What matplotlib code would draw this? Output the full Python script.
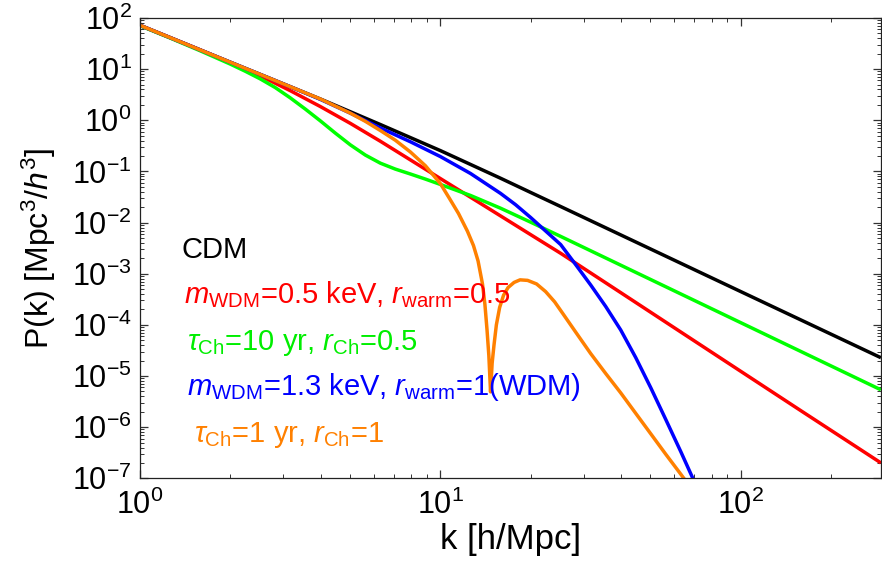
import matplotlib
matplotlib.use("Agg")
import matplotlib.pyplot as plt
from matplotlib.ticker import LogLocator, NullFormatter

plt.rcParams['font.family'] = ['Liberation Sans', 'DejaVu Sans']
plt.rcParams['mathtext.fontset'] = 'custom'
plt.rcParams['mathtext.rm'] = 'Liberation Sans'
plt.rcParams['mathtext.it'] = 'Liberation Sans:italic'
plt.rcParams['mathtext.bf'] = 'Liberation Sans:bold'

# ---- data ----
k_cdm = [1, 1.259, 1.585, 1.995, 2.512, 3.162, 3.981, 5.012, 6.310, 7.943, 10.0,
         12.59, 15.85, 19.95, 25.12, 100, 292.4]
P_cdm = [71.9, 41.4, 23.8, 13.7, 7.89, 4.54, 2.61, 1.47, 0.826, 0.459, 0.255,
         0.137, 0.0736, 0.0389, 0.0206, 4.46e-4, 2.28e-5]

k_wdm05 = [1, 1.259, 1.585, 1.995, 2.512, 3.162, 3.981, 5.012, 6.310, 7.943, 10.0,
           12.59, 15.85, 19.95, 25.12, 39.81, 63.10, 100, 158.5, 292.4]
P_wdm05 = [71.9, 41.4, 23.8, 13.5, 7.41, 3.80, 1.86, 0.871, 0.389, 0.168, 0.0724,
           0.0313, 0.0135, 5.82e-3, 2.51e-3, 4.27e-4, 7.24e-5, 1.23e-5, 2.09e-6, 2.0e-7]

k_ch10 = [1, 1.122, 1.259, 1.413, 1.585, 1.778, 1.995, 2.239, 2.512, 2.818, 3.162,
          3.548, 3.981, 4.467, 5.012, 5.623, 6.310, 7.079, 7.943, 8.913, 10.0,
          12.59, 15.85, 19.95, 25.12, 292.4]
P_ch10 = [70.8, 53.7, 40.7, 30.5, 22.9, 17.0, 12.6, 9.12, 6.46, 4.37, 2.75,
          1.66, 0.977, 0.562, 0.331, 0.209, 0.145, 0.111, 0.0891, 0.0708, 0.0556,
          0.0339, 0.0191, 0.0102, 5.37e-3, 5.37e-6]

k_wdm13 = [1, 1.259, 1.585, 1.995, 2.512, 3.162, 3.981, 5.012, 6.310, 7.943, 10.0,
           12.59, 15.85, 17.78, 19.95, 22.39, 25.12, 28.18, 31.62, 35.48, 39.81,
           44.67, 50.12, 56.23, 63.10, 70.79]
P_wdm13 = [71.9, 41.4, 23.8, 13.7, 7.89, 4.54, 2.57, 1.38, 0.708, 0.380, 0.195,
           0.0912, 0.0372, 0.0224, 0.0126, 6.84e-3, 3.72e-3, 1.51e-3, 6.03e-4,
           2.29e-4, 7.94e-5, 2.29e-5, 5.89e-6, 1.41e-6, 3.31e-7, 7.41e-8]

k_ch1 = [1, 1.259, 1.585, 1.995, 2.512, 3.162, 3.981, 5.012, 5.623, 6.310, 7.079,
         7.943, 8.913, 10.0, 10.72, 11.48, 12.30, 12.88, 13.34, 13.80, 14.06, 14.29,
         14.49, 14.68, 14.86, 15.07, 15.35, 15.74, 16.22, 16.79, 17.58, 18.41, 19.50,
         20.89, 22.39, 23.99, 25.70, 28.18, 31.62, 35.48, 39.81, 44.67, 50.12, 56.23,
         63.10, 65.31]
P_ch1 = [71.9, 41.4, 23.8, 13.7, 7.89, 4.54, 2.61, 1.38, 0.955, 0.631, 0.407,
         0.240, 0.129, 0.0575, 0.0295, 0.0151, 6.76e-3, 3.55e-3, 1.78e-3, 6.31e-4,
         2.51e-4, 7.94e-5, 2.51e-5, 4.90e-6, 1.78e-5, 3.98e-5, 1.0e-4, 2.19e-4,
         3.80e-4, 5.37e-4, 6.76e-4, 7.59e-4, 7.41e-4, 6.31e-4, 4.47e-4, 2.82e-4,
         1.58e-4, 7.24e-5, 2.75e-5, 1.12e-5, 4.68e-6, 1.86e-6, 7.41e-7, 2.95e-7,
         1.20e-7, 9.12e-8]

series = [
    (k_cdm, P_cdm, 'black'),
    (k_wdm05, P_wdm05, '#ff0000'),
    (k_ch10, P_ch10, '#00ff00'),
    (k_wdm13, P_wdm13, '#0000ff'),
    (k_ch1, P_ch1, '#ff8000'),
]

labels = [
    ('CDM', 'black', 0.056, 0.478),
    (r'$m_{\mathrm{WDM}}$=0.5 keV, $r_{\mathrm{warm}}$=0.5', '#ff0000', 0.060, 0.380),
    (r'$\tau_{\mathrm{Ch}}$=10 yr, $r_{\mathrm{Ch}}$=0.5', '#00ee00', 0.064, 0.279),
    (r'$m_{\mathrm{WDM}}$=1.3 keV, $r_{\mathrm{warm}}$=1(WDM)', '#0000ff', 0.064, 0.181),
    (r'$\tau_{\mathrm{Ch}}$=1 yr, $r_{\mathrm{Ch}}$=1', '#ff8000', 0.073, 0.0795),
]

fig = plt.figure(figsize=(8.82, 5.79), dpi=100)
ax = fig.add_axes([140/882, 1 - 478.3/579, 741/882, 460.3/579])

for k, P, c in series:
    ax.plot(k, P, color=c, lw=2.5, solid_joinstyle='round', solid_capstyle='butt')

ax.set_xscale('log')
ax.set_yscale('log')
ax.set_xlim(1, 292.6)
ax.set_ylim(1e-7, 1e2)

ax.yaxis.set_major_locator(LogLocator(base=10, numticks=20))
ax.yaxis.set_minor_locator(LogLocator(base=10, subs=range(2, 10), numticks=20))
ax.yaxis.set_minor_formatter(NullFormatter())
ax.xaxis.set_minor_formatter(NullFormatter())

ax.tick_params(which='both', direction='in', top=True, right=True, color='#333333')
ax.tick_params(which='major', length=6, width=0.9, labelsize=22)
ax.tick_params(which='minor', length=3, width=0.7)
ax.tick_params(axis='x', which='major', pad=8)
ax.tick_params(axis='y', which='major', pad=6)
for s in ax.spines.values():
    s.set_linewidth(0.9)
    s.set_color('#222222')

ax.set_xlabel('k [h/Mpc]', fontsize=25, labelpad=2)
ax.set_ylabel(r'P(k) [Mpc$^3$/$h^3$]', fontsize=23, labelpad=10)

for txt, c, x, y in labels:
    ax.text(x, y, txt, color=c, fontsize=21, transform=ax.transAxes, va='baseline', ha='left')

fig.savefig('out.png', dpi=100)
